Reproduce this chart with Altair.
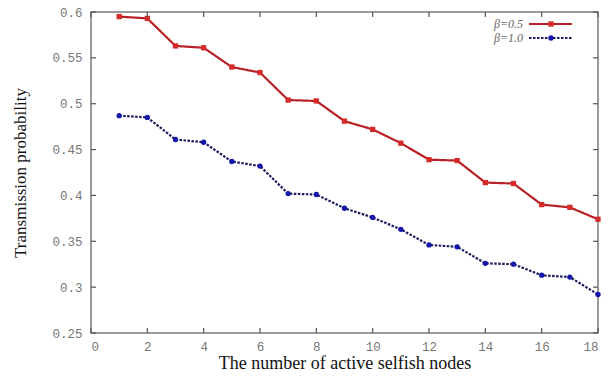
import altair as alt
import pandas as pd

nodes = list(range(1, 19))
series_names = ["β=0.5", "β=1.0"]
beta05 = [0.595, 0.593, 0.563, 0.561, 0.540, 0.534, 0.504, 0.503, 0.481,
          0.472, 0.457, 0.439, 0.438, 0.414, 0.413, 0.390, 0.387, 0.374]
beta10 = [0.487, 0.485, 0.461, 0.458, 0.437, 0.432, 0.402, 0.401, 0.386,
          0.376, 0.363, 0.346, 0.344, 0.326, 0.325, 0.313, 0.311, 0.292]
x_ticks = list(range(0, 19, 2))
y_ticks = [0.25, 0.3, 0.35, 0.4, 0.45, 0.5, 0.55, 0.6]

df = pd.DataFrame({
    "x": nodes * 2,
    "value": beta05 + beta10,
    "series": [series_names[0]] * len(nodes) + [series_names[1]] * len(nodes),
})
xt = pd.DataFrame({"x": x_ticks})
yt = pd.DataFrame({"value": y_ticks})

W, H = 507, 321
xs = alt.Scale(domain=[0, 18], nice=False, zero=False)
ys = alt.Scale(domain=[0.25, 0.6], nice=False, zero=False)
line_colors = ["#b82226", "#1c1c5c"]
point_colors = ["#d42a2a", "#1515a8"]

lbl = dict(labelFont="Liberation Mono", labelFontSize=12.5, labelColor="#777777")

x_main = alt.Axis(values=x_ticks, ticks=False, domain=False, grid=False,
                  labelPadding=7, title="The number of active selfish nodes",
                  titleFont="Liberation Serif", titleFontSize=18,
                  titleFontWeight="normal", titleColor="#111111",
                  titlePadding=2, **lbl)
y_main = alt.Axis(values=y_ticks, ticks=False, domain=False, grid=False,
                  format=".2~f", labelPadding=9, title="Transmission probability",
                  titleFont="Liberation Serif", titleFontSize=17,
                  titleFontWeight="normal", titleColor="#111111",
                  titlePadding=22, **lbl)

lines = alt.Chart(df).mark_line(strokeWidth=2.2).encode(
    x=alt.X("x:Q", scale=xs, axis=x_main),
    y=alt.Y("value:Q", scale=ys, axis=y_main),
    color=alt.Color("series:N", scale=alt.Scale(domain=series_names, range=line_colors), legend=None),
    strokeDash=alt.StrokeDash("series:N", scale=alt.Scale(domain=series_names, range=[[1, 0], [2.5, 1.5]]), legend=None),
)
points = alt.Chart(df).mark_point(filled=True, size=28, opacity=1).encode(
    x=alt.X("x:Q", scale=xs),
    y=alt.Y("value:Q", scale=ys),
    fill=alt.Fill("series:N", scale=alt.Scale(domain=series_names, range=point_colors), legend=None),
    shape=alt.Shape("series:N", scale=alt.Scale(domain=series_names, range=["square", "circle"]), legend=None),
)

tick_style = dict(color="#555555", thickness=1.2, size=5, opacity=1)
ticks_bottom = alt.Chart(xt).mark_tick(orient="vertical", **tick_style).encode(
    x=alt.X("x:Q", scale=xs), y=alt.value(H - 2.5))
ticks_top = alt.Chart(xt).mark_tick(orient="vertical", **tick_style).encode(
    x=alt.X("x:Q", scale=xs), y=alt.value(2.5))
ticks_left = alt.Chart(yt).mark_tick(orient="horizontal", **tick_style).encode(
    y=alt.Y("value:Q", scale=ys), x=alt.value(2.5))
ticks_right = alt.Chart(yt).mark_tick(orient="horizontal", **tick_style).encode(
    y=alt.Y("value:Q", scale=ys), x=alt.value(W - 2.5))

one = pd.DataFrame({"a": [0]})
legend_layers = []
for i, name in enumerate(series_names):
    yy = 12 + 14 * i
    legend_layers.append(alt.Chart(one).mark_text(
        align="right", baseline="middle", font="Liberation Serif",
        fontStyle="italic", fontSize=12, color="#666666").encode(
        x=alt.value(432), y=alt.value(yy), text=alt.value(name)))
    legend_layers.append(alt.Chart(one).mark_rule(
        strokeWidth=2.2, color=line_colors[i],
        strokeDash=[1, 0] if i == 0 else [2.5, 1.5]).encode(
        x=alt.value(438), x2=alt.value(481), y=alt.value(yy)))
    legend_layers.append(alt.Chart(one).mark_point(
        filled=True, size=28, opacity=1, color=point_colors[i],
        shape="square" if i == 0 else "circle").encode(
        x=alt.value(460), y=alt.value(yy)))

chart = alt.layer(lines, points, ticks_bottom, ticks_top, ticks_left, ticks_right,
                  *legend_layers).properties(
    width=W, height=H,
    background="white",
    autosize=alt.AutoSizeParams(type="none"),
    padding={"left": 91, "top": 12, "right": 14, "bottom": 43},
).configure_view(stroke="#7a7a7a", strokeWidth=1.5)

chart.save("out.html", embed_options={"renderer": "svg", "actions": False})
